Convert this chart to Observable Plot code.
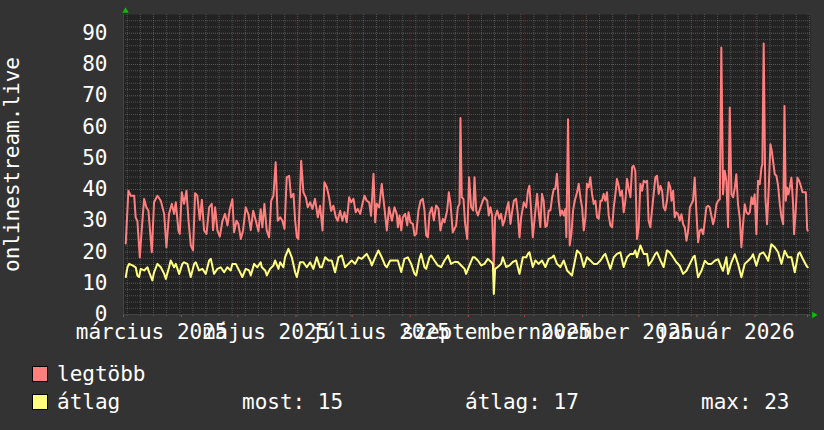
<!DOCTYPE html>
<html><head><meta charset="utf-8">
<script src="https://cdn.jsdelivr.net/npm/d3@7"></script>
<script src="https://cdn.jsdelivr.net/npm/@observablehq/plot@0.6"></script>
<style>
html,body{margin:0;padding:0;background:#333;}
#wrap{position:relative;width:824px;height:430px;background:#333;overflow:hidden;font-family:"DejaVu Sans Mono",monospace;color:#fff;}
#wrap svg{display:block;}
.lg{position:absolute;font-size:21px;line-height:21px;white-space:pre;color:#fff;}
.sw{position:absolute;width:14px;height:14px;border:1px solid #000;}
</style></head><body><div id="wrap"></div>
<script>
// ---- data: [days since 1 March 2025 12:00 UTC, value] ----
const legtobb = [
[0.7,22.7],[2.1,39.6],[3.4,38],[5.2,38],[6.0,31],[6.9,30],[8.2,18.3],[9.2,26.9],[10.5,37],[11.7,34.3],[12.8,33.2],[14.6,19.9],[15.8,35.9],[17.6,38],[19.4,36.4],[21.2,32.2],[22.4,21.5],[23.8,32.2],[25.3,35.4],[26.5,32.2],[27.4,35.9],[28.8,26.9],[29.5,25.8],[30.6,39.1],[31.8,35.4],[33.1,39.6],[34.2,30],[35.4,22.1],[36.6,20.5],[37.7,38.8],[38.9,38],[40.2,30.3],[41.3,36.7],[42.5,26.9],[43.8,25.8],[45.2,34.3],[46.6,35.4],[47.3,27],[48.4,34.3],[49.6,26.9],[50.9,24.9],[52.3,30],[53.7,32.2],[55.0,28.5],[56.2,33.7],[57.6,36.9],[58.5,26.3],[59.8,30],[60.8,29],[62.1,24.2],[63.3,26.9],[64.7,34.3],[66.2,32],[67.4,27],[68.7,33.2],[70.1,30],[71.5,26.6],[72.7,33.7],
[73.6,27.9],[74.7,35.4],[75.9,26.9],[77.2,24.7],[78.3,36.4],[79.5,38],[80.7,48.7],[81.8,30],[83.1,31.1],[84.3,30],[85.4,27.4],[86.6,43.9],[87.9,44.4],[88.9,37.5],[90.2,38.6],[91.1,30],[92,24.7],[92.8,24.2],[94.3,49.2],[95.5,39.1],[96.8,37.5],[97.8,34.3],[99.1,35.9],[100.3,33.8],[101.7,37],[103.2,31.1],[104.4,34.8],[105.7,26.9],[106.7,42.3],[108,40.7],[109.2,37.5],[110.3,33.2],[111.5,34.8],[112.8,31.1],[113.8,30],[115.1,33.2],[116.3,30],[117.4,32.7],[118.6,29.5],[119.9,37.5],[121,35.9],[122.2,37],[123.4,32.7],[124.5,33.8],[125.8,32.2],[127,35.4],[128.1,38],[129.3,36.4],[130.6,35.9],[131.6,31.6],[132.9,45],[133.8,29.5],[134.6,35.4],[135.9,34.3],[137.3,41.8],[138.7,34.3],[140,26.9],[141.2,34.3],[142.7,30],[144.1,34.3],[145.3,32.2],
[145.9,27.9],[146.8,31.7],[147.7,26.9],[148.5,31.1],[149.8,32.2],[150.9,28.5],[151.6,32.7],[152.6,29.5],[153.9,29],[154.8,25.3],[155.7,25.8],[156.9,33.3],[158,36.4],[159.2,37],[160.1,33.3],[161,25.3],[161.9,24.7],[162.8,32.2],[164,34.3],[165.1,30.1],[166.3,34.9],[167.6,33.8],[168.6,26.9],[169.9,30.6],[170.8,29.5],[172.2,33.3],[173.1,39.1],[174,35.4],[175.2,26.3],[176.1,27.4],[177,28.5],[177.9,34.3],[178.8,35.4],[179.3,62.9],[180,37.5],[180.9,37],[181.8,29],[182.9,24.2],[183.9,43.9],[185,34.3],[186.1,33.3],[186.8,43.9],[187.7,33.3],[188.6,31.7],[190,34.3],[191.2,36.4],[192.1,37.5],[193.6,36.4],[194.4,31.7],[195.3,34.3],[196.2,31.7],[197.1,15],[197.8,31.1],[198.9,33.3],[200.1,30.6],[201,32.2],[201.9,28.5],[202.8,30.1],[204.2,34.3],[204.9,35.9],[206,29],[206.7,32.2],[207.8,36.4],[209,37],[209.9,32.2],[210.8,24.7],[211.7,31.1],[213.1,35.9],[214.4,34.3],[215.3,39.6],[216.1,41.2],[217,33.3],[217.9,24.7],
[219.3,33.3],[220.2,38.6],[221,33.3],[221.9,28],[222.8,38.6],[223.7,36.4],[224.6,28],[225.5,28.5],[226.4,33.3],[227.3,33.3],[228.2,37.5],[229.1,40.2],[229.9,40.2],[230.8,45],[231.7,36.4],[232.6,31.7],[233.5,33.3],[234.4,31.7],[235.3,33.8],[235.8,24.7],[236.7,62.5],[237.6,22.1],[238.5,25.8],[239.4,33.3],[240.3,36.4],[241.5,39.1],[242.4,41.8],[243.3,37.5],[244.2,34.3],[245.1,26.9],[246,31.1],[246.8,41.8],[247.7,40.7],[248.6,43.9],[249.5,38.6],[250.4,35.4],[251.3,36.4],[252.2,31.1],[253.1,30.6],[254,36.4],[254.8,36.4],[255.7,38.6],[256.6,36.4],[257.5,39.1],[258.4,31.7],[259.3,28.5],[260.2,27.9],[261.1,34.3],[262,38.6],[262.8,43.4],[263.7,41.2],[264.6,38],[265.5,39.6],[266.4,32.7],[267.3,36.4],[268.2,43.4],[269.1,40.2],[270,37.5],[270.9,47.1],[271.7,47.6],[272.6,46],[273.5,24.2],[274.4,27.9],[275.3,41.8],[276.2,39.6],[277.1,42.8],[278,42.3],[278.9,42.8],[279.7,30.1],[280.6,27.9],[281.5,33.3],[282.4,38.6],[283.3,43.9],[284.2,44.4],[285.1,38.6],[286,41.2],[286.9,39.6],[287.7,34.3],[288.6,33.3],[289.5,36.4],[290.4,42.3],
[291.3,40.6],[291.9,36.4],[292.8,39.6],[293.6,31.1],[294.5,32.7],[295.4,32.1],[296.3,30],[297.2,32.1],[298.1,28.9],[299,27.9],[299.9,23.6],[300.8,26.8],[301.7,34.3],[302.5,35.3],[303.4,36.4],[304.3,43.8],[305.2,32.7],[306.1,23.1],[307,26.8],[307.9,27.3],[308.8,25.7],[309.7,30],[310.5,34.3],[311.4,34.8],[312.3,34.3],[313.2,31.6],[314.1,28.9],[315,31.1],[315.9,35.3],[316.8,36.4],[317.7,36.9],[318.5,85.4],[319.4,38.5],[320.3,46],[321.2,42.8],[322.1,27.9],[323,66.2],[323.9,38.5],[324.8,37.5],[325.7,40.6],[326.5,44.9],[327.4,35.3],[328.3,31.1],[329.2,21.5],[330.1,28.9],[331,35.3],[331.9,32.7],[332.8,32.1],[333.7,32.7],[334.6,37.5],[335.4,35.3],[336.3,38.5],[337.2,25.7],[338.1,42.8],[339,41.7],[339.9,47],[340.4,48.1],[341.1,86.7],[342,37.5],[342.9,28.9],[343.8,40.6],[344.7,54.5],[345.4,52.4],[346.1,49.2],[347,44.9],[347.9,44.4],[348.8,41.2],[349.7,35.3],[350.6,31.1],[351.5,28.9],[352.2,66.7],[352.9,36.4],[353.6,40.6],[354.3,38.5],[355,40.6],[355.9,43.8],[356.8,35.3],[357.3,25.7],[358.2,33.2],[359.1,43.8],[360,42.8],[360.9,41.2],[361.8,39.1],[362.7,39.1],[363.6,39.1],[364.3,27.3],[364.6,26.8]
];
const atlag = [
[0.7,12],[1.6,15.1],[2.5,16.2],[4.3,15.7],[6,15.1],[6.9,12.5],[7.8,12],[8.7,14.6],[10.5,14.1],[12.3,15.1],[13.2,13.5],[14.9,10.9],[15.8,13.5],[17.6,16.2],[19.4,15.1],[21.2,13],[22.1,11.4],[23.8,15.1],[24.7,17.3],[26.5,15.1],[27.4,16.2],[29.2,13],[30.9,16.2],[31.8,16.7],[33.6,16.2],[34.5,14.1],[35.4,12],[37.2,16.2],[38.1,16.7],[39.8,14.1],[41.6,14.6],[43.4,13],[45.2,17.3],[46.1,17.8],[47.8,13],[49.6,14.6],[51.4,15.1],[53.2,13.5],[54.9,15.1],[56.7,14.1],[57.6,16.2],[59.4,16.2],[61.2,14.1],[62.9,12],[64.7,14.6],[66.5,14.1],[67.4,12.5],[69.2,16.2],[70.9,15.1],[72.7,16.7],
[73.3,15.1],[75.1,14.1],[76,12.5],[77.7,14.6],[79.5,15.7],[80.4,17.3],[82.2,14.6],[83.1,16.7],[84.8,15.1],[85.7,18.3],[87.5,21],[89.3,18.3],[91.1,13.5],[92,12],[93.7,16.7],[95.5,16.7],[97.3,15.1],[99.1,16.7],[100.8,14.6],[102.6,18.3],[104.4,15.1],[105.3,15.1],[107.1,18.3],[108.9,17.3],[110.6,17.3],[112.4,13.5],[114.2,18.3],[116,18.9],[117.7,15.1],[119.5,16.2],[121.3,17.3],[123.1,16.2],[124.9,18.3],[126.6,17.8],[128.4,18.9],[129.3,19.4],[131.1,17.3],[132,15.7],[133.8,18.3],[135.5,20.5],[137.3,18.3],[139.1,15.7],[140,15.1],[141.8,17.3],[143.5,17.3],[145.3,17.3],
[145.9,17.3],[147.7,13.6],[149.4,17.8],[151.2,18.3],[153,16.2],[154.8,13],[155.7,12.5],[157.4,17.8],[158.3,19.4],[160.1,15.1],[161,14.6],[162.8,18.3],[163.7,18.9],[165.4,17.3],[167.2,15.7],[169,15.2],[170.8,17.3],[172.6,18.9],[174.3,16.2],[176.1,16.8],[177.9,16.8],[179.7,15.7],[181.5,14.6],[182.3,13],[184.1,15.7],[185.9,18.3],[186.8,18.3],[188.6,17.3],[190.4,15.7],[192.1,16.2],[193.9,17.8],[195.7,16.8],[196.6,16.2],[197.1,6.6],[197.8,14.6],[199.2,15.2],[201,16.2],[201.9,18.3],[203.7,15.2],[205.5,15.7],[207.2,16.8],[209,17.3],[210.8,13],[212.6,18.3],[214.4,18.3],[215.3,19.4],[216.1,19.9],[217.9,15.2],
[219.3,17.3],[221,16.2],[222.8,17.3],[224.6,15.2],[226.4,17.8],[228.2,18.3],[229.1,18.9],[230.8,16.2],[232.6,15.2],[234.4,17.3],[236.2,14.1],[238.8,12.5],[239.7,15.2],[241.5,20.5],[243.3,19.4],[245.1,15.2],[246.8,18.3],[248.6,17.3],[250.4,16.2],[252.2,16.2],[254,17.3],[255.7,18.9],[256.6,19.4],[258.4,16.2],[259.3,14.6],[261.1,18.3],[262.8,19.4],[264.6,19.9],[266.4,15.2],[268.2,18.3],[270,19.4],[271.7,19.4],[272.6,20.5],[273.5,18.3],[275.3,22.1],[277.1,19.4],[278.9,19.4],[279.7,15.7],[281.5,17.3],[283.3,19.4],[284.2,19.9],[286,17.3],[287.7,15.2],[289.5,20.5],
[291,19.9],[292.8,18.3],[294.5,16.7],[296.3,15.6],[298.1,13],[299.9,14],[301.7,16.2],[303.4,18.3],[304.3,18.8],[306.1,11.9],[307.9,14],[309.7,17.2],[311.4,16.2],[313.2,16.2],[315,17.2],[316.8,17.7],[318.5,15.1],[319.4,14],[321.2,18.3],[322.1,13],[323.9,16.7],[325.7,19.3],[327.4,16.2],[329.2,11.9],[331,16.2],[332.8,17.2],[334.6,18.3],[335.4,19.3],[337.2,15.6],[339,19.3],[340.9,19.9],[342.6,18.3],[343.5,17.2],[345.2,22.5],[347,21.5],[348.8,19.9],[350.6,16.2],[352.3,20.4],[354.1,18.3],[355.9,18.3],[357.7,13.5],[359.5,19.3],[360.3,19.9],[362.1,17.7],[363.9,15.6],[364.6,15.1]
];
const yTicks = [0,10,20,30,40,50,60,70,80,90];
const xLabelDates = ["2025-03-16","2025-05-16","2025-07-16","2025-09-16","2025-11-16","2026-01-16"];
const xLabelTexts = ["március 2025","május 2025","július 2025","szeptember 2025","november 2025","január 2026"];
const yTitle = "onlinestream.live";
const seriesNames = ["legtöbb","átlag"];
const seriesColors = ["#ff7f7f","#ffff7f"];
const summary = [["most",15],["átlag",17],["max",23]];

// ---- build ----
const DAY = 864e5;
const origin = Date.UTC(2025, 2, 1, 12);
const toRows = arr => arr.map(([d, v]) => ({date: new Date(origin + d * DAY), value: v}));
const maxRows = toRows(legtobb);
const avgRows = toRows(atlag);
const start = new Date(Date.UTC(2025, 2, 1));
const end = new Date(Date.UTC(2026, 2, 2, 14));
const monthStarts = d3.utcMonth.range(start, end);
const mondays = d3.utcMonday.range(start, end);
const labelMap = new Map(xLabelDates.map((s, i) => [+new Date(s + "T00:00Z"), xLabelTexts[i]]));
const labelDates = xLabelDates.map(s => new Date(s + "T00:00Z"));
const font = "DejaVu Sans Mono";
const minorY = d3.range(2, 96, 2);
const majorY = d3.range(10, 96, 10);

const chart = Plot.plot({
  width: 824, height: 350,
  marginLeft: 123, marginRight: 14, marginTop: 14, marginBottom: 36,
  style: {background: "transparent", color: "#fff", fontFamily: font, fontSize: "21px", overflow: "visible"},
  x: {type: "utc", domain: [start, end], axis: null},
  y: {domain: [0, 96], axis: null},
  marks: [
    Plot.frame({fill: "#222222", stroke: null}),
    Plot.gridY(minorY, {stroke: "#bababa", strokeOpacity: 0.3, strokeDasharray: "1,1"}),
    Plot.gridX(mondays, {stroke: "#bababa", strokeOpacity: 0.3, strokeDasharray: "1,1"}),
    Plot.gridY(majorY, {stroke: "#ff3030", strokeOpacity: 0.3, strokeDasharray: "1,1"}),
    Plot.gridX(monthStarts, {stroke: "#ff3030", strokeOpacity: 0.25, strokeDasharray: "1,2"}),
    Plot.axisX(mondays, {tickSize: 2, tickFormat: () => "", stroke: "#777", strokeOpacity: 0.6}),
    Plot.axisX(monthStarts, {tickSize: 3, tickFormat: () => "", stroke: "#c04040"}),
    Plot.ruleY([0], {stroke: "#444"}),
    Plot.ruleX([start], {stroke: "#444"}),
    Plot.line(maxRows, {x: "date", y: "value", stroke: seriesColors[0], strokeWidth: 2}),
    Plot.line(avgRows, {x: "date", y: "value", stroke: seriesColors[1], strokeWidth: 2}),
    Plot.axisY(yTicks, {tickSize: 0, tickPadding: 16, fontSize: 21, fontFamily: font, fill: "#fff", label: null}),
    Plot.axisX(labelDates, {tickSize: 0, tickPadding: 10, fontSize: 21, fontFamily: font, fill: "#fff", label: null, tickFormat: d => labelMap.get(+d)}),
    Plot.text([yTitle], {frameAnchor: "left", textAnchor: "middle", dx: -111, rotate: -90, fontSize: 21, fontFamily: font, fill: "#fff"}),
    Plot.dot([0], {frameAnchor: "top-left", dx: 2, dy: -3.5, symbol: "triangle", r: 2.4, fill: "#00c000", stroke: null}),
    Plot.dot([0], {frameAnchor: "bottom-right", dx: 3.5, dy: 0.5, symbol: "triangle", r: 2.4, rotate: 90, fill: "#00c000", stroke: null})
  ]
});
const wrap = document.getElementById("wrap");
wrap.appendChild(chart);

// legend
function add(cls, left, top, text, bg) {
  const el = document.createElement("div");
  el.className = cls;
  el.style.left = left + "px";
  el.style.top = top + "px";
  if (text != null) el.textContent = text;
  if (bg) el.style.background = bg;
  wrap.appendChild(el);
}
add("sw", 32, 366, null, seriesColors[0]);
add("lg", 57, 364, seriesNames[0]);
add("sw", 32, 394, null, seriesColors[1]);
add("lg", 57, 392, seriesNames[1]);
const sumLeft = [242, 465, 701];
summary.forEach(([k, v], i) => add("lg", sumLeft[i], 392, k + ": " + v));
</script>
</body></html>
